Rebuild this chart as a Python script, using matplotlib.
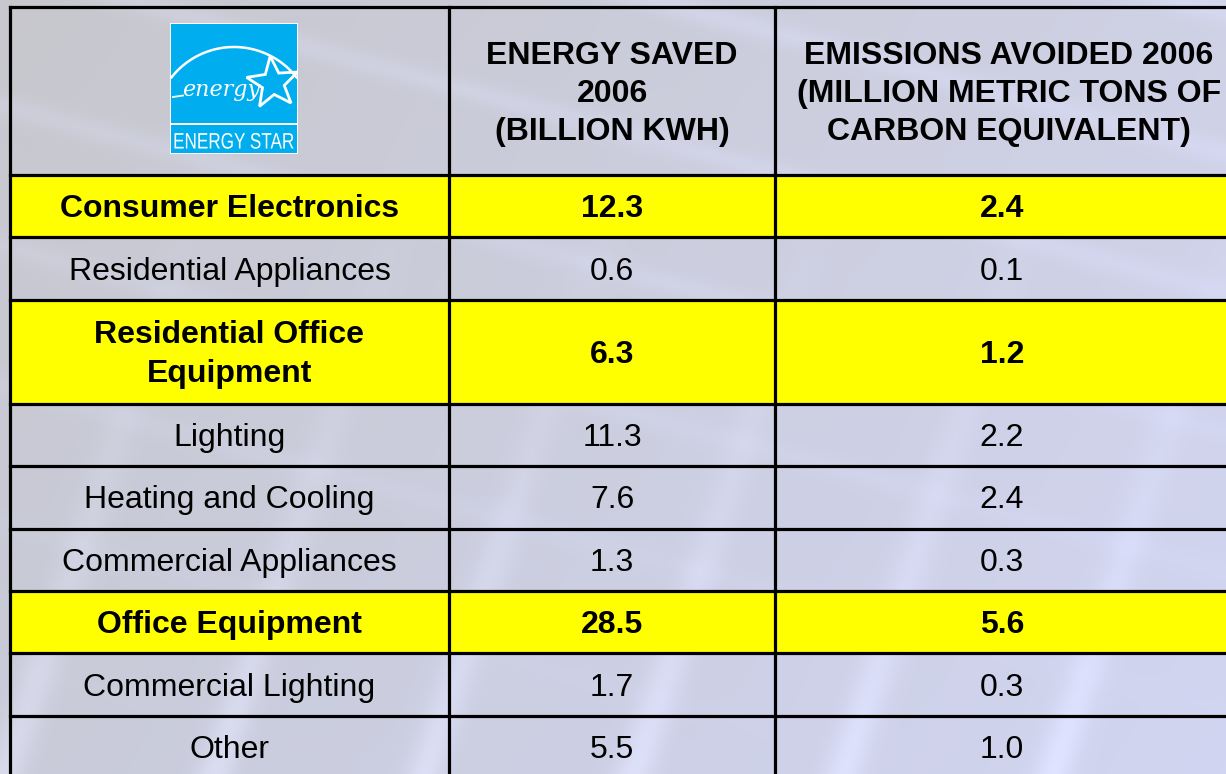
import numpy as np
import matplotlib
matplotlib.use("Agg")
import matplotlib.pyplot as plt
from matplotlib.patches import Rectangle, Polygon, PathPatch
from matplotlib.textpath import TextPath
from matplotlib.font_manager import FontProperties
from matplotlib.transforms import Affine2D

# ---------------- data ----------------
categories = ["Consumer Electronics", "Residential Appliances",
              "Residential Office\nEquipment", "Lighting", "Heating and Cooling",
              "Commercial Appliances", "Office Equipment", "Commercial Lighting", "Other"]
energy_saved = [12.3, 0.6, 6.3, 11.3, 7.6, 1.3, 28.5, 1.7, 5.5]
emissions_avoided = [2.4, 0.1, 1.2, 2.2, 2.4, 0.3, 5.6, 0.3, 1.0]
highlighted = [True, False, True, False, False, False, True, False, False]
headers = ["ENERGY SAVED\n2006\n(BILLION KWH)",
           "EMISSIONS AVOIDED 2006\n(MILLION METRIC TONS OF\nCARBON EQUIVALENT)"]

# ---------------- figure ----------------
W, H = 1226, 774
fig = plt.figure(figsize=(12.26, 7.74), dpi=100)
ax = fig.add_axes([0, 0, 1, 1])
ax.set_xlim(0, W)
ax.set_ylim(H, 0)
ax.axis("off")

# background (smooth, deterministic photo-like wash)
yy, xx = np.mgrid[0:H:2, 0:W:2].astype(float)
u, v = xx / W, yy / H
streak = (0.5 + 0.5 * np.sin(xx * 0.030 + yy * 0.010)) ** 12
streak2 = (0.5 + 0.5 * np.sin(xx * 0.012 - yy * 0.045)) ** 14
r = 199 + 8 * u + 2 * v + 16 * streak * v ** 2 + 7 * streak2 * (1 - v)
g = 199 + 10 * u + 4 * v + 16 * streak * v ** 2 + 7 * streak2 * (1 - v)
b = 205 + 24 * u + 12 * v + 20 * streak * v ** 2 + 12 * streak2 * (1 - v)
bg = np.clip(np.dstack([r, g, b]) / 255.0, 0, 1)
ax.imshow(bg, extent=(0, W, H, 0), aspect="auto", interpolation="bilinear", zorder=0)

# ---------------- table layout ----------------
x_edges = [10, 449, 775, 1240]
header_h = 168
row_heights = [104 if "\n" in c else 62.4 for c in categories]
y_edges = np.concatenate([[7], 7 + header_h + np.concatenate([[0], np.cumsum(row_heights)])])
lw = 2.3
FONT = "Liberation Sans"
FS = 23

for i, hl in enumerate(highlighted):
    if hl:
        ax.add_patch(Rectangle((x_edges[0], y_edges[i + 1]), x_edges[-1] - x_edges[0],
                               row_heights[i], facecolor="#ffff00", edgecolor="none", zorder=1))

for y in y_edges:
    ax.plot([x_edges[0], x_edges[-1]], [y, y], color="black", lw=lw, zorder=3,
            solid_capstyle="projecting")
for x in x_edges:
    ax.plot([x, x], [y_edges[0], y_edges[-1]], color="black", lw=lw, zorder=3,
            solid_capstyle="projecting")

# header texts
header_cx = [612, 1009]
hy = y_edges[0] + header_h / 2 + 3
for cx, txt in zip(header_cx, headers):
    ax.text(cx, hy, txt, ha="center", va="center", fontsize=FS, fontweight="bold",
            family=FONT, linespacing=1.36, zorder=4)

# body texts
col_cx = [229.5, 612, 1002]
for i, (cat, e, m, hl) in enumerate(zip(categories, energy_saved, emissions_avoided, highlighted)):
    cy = y_edges[i + 1] + row_heights[i] / 2
    wt = "bold" if hl else "normal"
    for cx, txt in zip(col_cx, [cat, f"{e:.1f}", f"{m:.1f}"]):
        ax.text(cx, cy + 3, txt, ha="center", va="center", fontsize=FS, fontweight=wt,
                family=FONT, linespacing=1.38, zorder=4)

# ---------------- ENERGY STAR logo ----------------
blue = "#00aeef"
ax.add_patch(Rectangle((170, 23), 128, 131, facecolor="white", edgecolor="none", zorder=4))
top_box = Rectangle((171, 24), 126, 99, facecolor=blue, edgecolor="none", zorder=5)
ax.add_patch(top_box)
ax.add_patch(Rectangle((171, 125), 126, 28, facecolor=blue, edgecolor="none", zorder=5))
# arc
acx, acy, R = 234, 126.5, 79.5
ax_pts = np.linspace(171.5, 296.5, 120)
ay_pts = acy - np.sqrt(R ** 2 - (ax_pts - acx) ** 2)
ax.plot(ax_pts, ay_pts, color="white", lw=1.8, zorder=6)
# star
scx, scy, Ro, Ri, tilt = 273, 83, 27, 11.5, np.deg2rad(-6)
ang = -np.pi / 2 + np.arange(10) * np.pi / 5 + tilt
rad = np.where(np.arange(10) % 2 == 0, Ro, Ri)
star = Polygon(np.column_stack([scx + rad * np.cos(ang), scy + rad * np.sin(ang)]),
               closed=True, facecolor="none", edgecolor="white", lw=2.0, zorder=7,
               joinstyle="miter")
ax.add_patch(star)
star.set_clip_path(top_box)
# script word
t = ax.text(182, 90, "energy", ha="left", va="center", fontsize=16, color="white",
            family="DejaVu Serif", style="italic", zorder=7)
t.set_clip_path(top_box)
ax.plot([173, 183], [97, 95.5], color="white", lw=1.3, zorder=7)


def condensed_text(s, x0, x1, baseline, cap_px, weight="normal"):
    tp = TextPath((0, 0), s, size=10, prop=FontProperties(family=FONT, weight=weight))
    ext = tp.get_extents()
    sx = (x1 - x0) / ext.width
    sy = cap_px / 7.16
    tr = Affine2D().translate(-ext.x0, 0).scale(sx, -sy).translate(x0, baseline)
    ax.add_patch(PathPatch(tr.transform_path(tp), facecolor="white", edgecolor="none",
                           zorder=7))


condensed_text("ENERGY STAR", 174.5, 293.5, 148.5, 16)

fig.savefig("out.png", dpi=100)
